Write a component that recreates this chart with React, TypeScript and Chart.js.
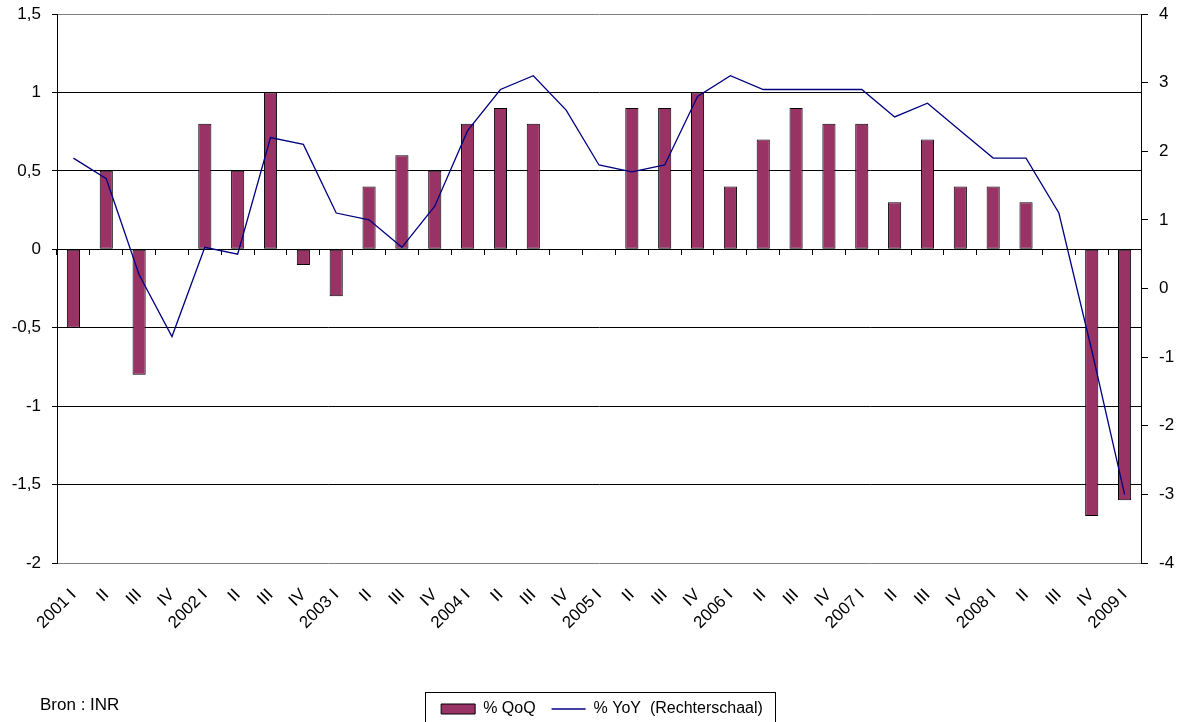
import React, { useEffect, useRef } from 'react';
import { Chart, registerables } from 'chart.js';

Chart.register(...registerables);

const categories = [
  '2001 I', 'II', 'III', 'IV',
  '2002 I', 'II', 'III', 'IV',
  '2003 I', 'II', 'III', 'IV',
  '2004 I', 'II', 'III', 'IV',
  '2005 I', 'II', 'III', 'IV',
  '2006 I', 'II', 'III', 'IV',
  '2007 I', 'II', 'III', 'IV',
  '2008 I', 'II', 'III', 'IV',
  '2009 I',
];

const qoqValues = [
  -0.5, 0.5, -0.8, 0,
  0.8, 0.5, 1.0, -0.1,
  -0.3, 0.4, 0.6, 0.5,
  0.8, 0.9, 0.8, 0,
  0, 0.9, 0.9, 1.0,
  0.4, 0.7, 0.9, 0.8,
  0.8, 0.3, 0.7, 0.4,
  0.4, 0.3, 0, -1.7,
  -1.6,
];

const yoyValues = [
  1.9, 1.6, 0.2, -0.7,
  0.6, 0.5, 2.2, 2.1,
  1.1, 1.0, 0.6, 1.2,
  2.3, 2.9, 3.1, 2.6,
  1.8, 1.7, 1.8, 2.8,
  3.1, 2.9, 2.9, 2.9,
  2.9, 2.5, 2.7, 2.3,
  1.9, 1.9, 1.1, -0.9,
  -3.0,
];

const seriesNames = ['% QoQ', '% YoY  (Rechterschaal)'];
const sourceText = 'Bron : INR';

const FONT = 'Liberation Sans, Arial, sans-serif';

export default function App() {
  const canvasRef = useRef<HTMLCanvasElement>(null);

  useEffect(() => {
    if (!canvasRef.current) return;

    const legendShift = {
      id: 'legendShift',
      afterLayout(chart: any) {
        const lg = chart.legend;
        if (!lg) return;
        lg.left += 12;
        lg.right += 12;
      },
    };

    const legendBorder = {
      id: 'legendBorder',
      afterDraw(chart: any) {
        const lg = chart.legend;
        if (!lg || !lg.legendHitBoxes || !lg.legendHitBoxes.length) return;
        const hb = lg.legendHitBoxes;
        let minL = Infinity;
        let maxR = -Infinity;
        let minT = Infinity;
        hb.forEach((h: any) => {
          minL = Math.min(minL, h.left);
          maxR = Math.max(maxR, h.left + h.width);
          minT = Math.min(minT, h.top);
        });
        const ctx = chart.ctx;
        ctx.save();
        ctx.strokeStyle = '#000';
        ctx.lineWidth = 1;
        const l = Math.round(minL - 16) + 0.5;
        const r = Math.round(maxR + 12) + 0.5;
        const t = Math.round(minT - 9) + 0.5;
        const b = chart.height + 10;
        ctx.strokeRect(l, t, r - l, b - t);
        ctx.restore();
      },
    };

    const chart = new Chart(canvasRef.current, {
      type: 'bar',
      data: {
        labels: categories,
        datasets: [
          {
            type: 'bar',
            label: seriesNames[0],
            data: qoqValues,
            backgroundColor: '#993366',
            borderColor: '#000000',
            borderWidth: 1,
            borderSkipped: false,
            barPercentage: 0.4,
            categoryPercentage: 1,
            pointStyle: 'rect',
            xAxisID: 'x',
            yAxisID: 'y',
            order: 1,
          } as any,
          {
            type: 'line',
            label: seriesNames[1],
            data: yoyValues,
            borderColor: '#000080',
            backgroundColor: '#000080',
            borderWidth: 1.3,
            pointRadius: 0,
            pointStyle: 'line',
            tension: 0,
            fill: false,
            xAxisID: 'x',
            yAxisID: 'y1',
            order: 0,
          } as any,
        ],
      },
      options: {
        responsive: false,
        animation: false,
        devicePixelRatio: 1,
        layout: { padding: { left: 0, top: 14, right: 0, bottom: 0 } },
        plugins: {
          tooltip: { enabled: false },
          legend: {
            position: 'bottom',
            maxHeight: 37,
            labels: {
              usePointStyle: true,
              pointStyleWidth: 34,
              boxHeight: 10,
              padding: 16,
              color: '#000',
              font: { family: FONT, size: 16 },
              sort: (a: any, b: any) => a.datasetIndex - b.datasetIndex,
            },
          } as any,
        },
        scales: {
          x: {
            type: 'category',
            offset: true,
            grid: { display: false },
            border: { display: false },
            ticks: {
              color: '#000',
              font: { family: FONT, size: 17 },
              minRotation: 45,
              maxRotation: 45,
              autoSkip: false,
              padding: 14,
            },
            afterFit: (s: any) => {
              s.height = 122;
            },
          },
          x2: {
            type: 'category',
            axis: 'x',
            labels: categories,
            offset: true,
            position: { y: 0 },
            ticks: { display: false },
            grid: {
              offset: true,
              drawOnChartArea: false,
              color: '#000',
              tickLength: 5,
            },
            border: { display: true, color: '#000', width: 1 },
          } as any,
          y: {
            position: 'left',
            min: -2,
            max: 1.5,
            ticks: {
              stepSize: 0.5,
              color: '#000',
              font: { family: FONT, size: 17 },
              padding: 1,
              callback: (v: any) => String(v).replace('.', ','),
            },
            grid: {
              color: (c: any) =>
                c.tick && (c.tick.value === 1.5 || c.tick.value === -2) ? '#808080' : '#000',
              tickColor: '#000',
              tickLength: 15,
              tickBorderDash: [5, 200],
              tickBorderDashOffset: 195,
              lineWidth: 1,
            },
            border: { display: true, color: '#000', width: 1 },
            afterFit: (s: any) => {
              s.width = 57;
            },
          },
          y1: {
            position: 'right',
            min: -4,
            max: 4,
            ticks: {
              stepSize: 1,
              color: '#000',
              font: { family: FONT, size: 17 },
              padding: 1,
            },
            grid: {
              drawOnChartArea: false,
              color: '#000',
              tickLength: 17,
              tickBorderDash: [6, 200],
            },
            border: { display: true, color: '#000', width: 1 },
            afterFit: (s: any) => {
              s.width = 39;
            },
          },
        },
      },
      plugins: [legendShift, legendBorder],
    });

    return () => chart.destroy();
  }, []);

  return (
    <div style={{ position: 'absolute', left: 0, top: 0, width: 1180, height: 722, background: '#fff', overflow: 'hidden' }}>
      <canvas ref={canvasRef} width={1180} height={722} style={{ display: 'block', width: 1180, height: 722 }} />
      <div
        style={{
          position: 'absolute',
          left: 40,
          top: 696,
          fontFamily: FONT,
          fontSize: 17,
          lineHeight: '17px',
          color: '#000',
          whiteSpace: 'nowrap',
        }}
      >
        {sourceText}
      </div>
    </div>
  );
}
